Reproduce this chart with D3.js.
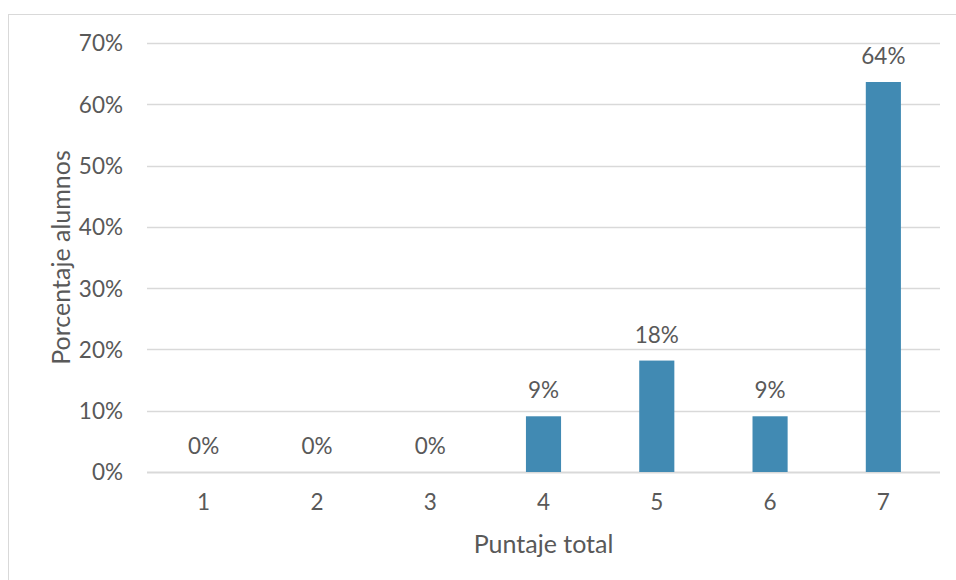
<!DOCTYPE html>
<html>
<head>
<meta charset="utf-8">
<script src="https://cdn.jsdelivr.net/npm/d3@7"></script>
<style>
  body { margin: 0; background: #fff; }
  text { font-family: Lato, "Open Sans", sans-serif; fill: #595959; }
</style>
</head>
<body>
<svg id="chart" width="956" height="580"></svg>
<script>
var categories = ["1", "2", "3", "4", "5", "6", "7"];
var values = [0, 0, 0, 1/11, 2/11, 1/11, 7/11];
var yTicks = [0, 0.1, 0.2, 0.3, 0.4, 0.5, 0.6, 0.7];
var xTitle = "Puntaje total";
var yTitle = "Porcentaje alumnos";

var svg = d3.select("#chart");
var margin = {top: 43, right: 16, bottom: 108, left: 147};
var width = 956 - margin.left - margin.right,
    height = 580 - margin.top - margin.bottom;

// chart frame
svg.append("rect")
  .attr("x", 8.5).attr("y", 14.5)
  .attr("width", 960).attr("height", 600)
  .attr("fill", "none")
  .attr("stroke", "#d9d9d9");

var g = svg.append("g")
  .attr("transform", "translate(" + margin.left + "," + margin.top + ")");

var x = d3.scaleBand().domain(categories).range([0, width]).paddingInner(0.69).paddingOuter(0.345);
var y = d3.scaleLinear().domain([0, 0.7]).range([height, 0]);

// gridlines
g.selectAll(".grid")
  .data(yTicks)
  .enter().append("line")
    .attr("class", "grid")
    .attr("x1", 0).attr("x2", width)
    .attr("y1", function(d) { return Math.round(y(d)) + 0.5; })
    .attr("y2", function(d) { return Math.round(y(d)) + 0.5; })
    .attr("stroke", "#d9d9d9")
    .attr("stroke-width", function(d) { return d === 0 ? 2 : 1.3; });

var yAxis = d3.axisLeft(y).tickValues(yTicks).tickFormat(d3.format(".0%")).tickSize(0).tickPadding(24);
g.append("g").call(yAxis)
  .call(function(s) { s.select(".domain").remove(); })
  .selectAll("text").style("font-size", "22.5px").style("fill", "#595959").attr("dy", "0.35em");

var xAxis = d3.axisBottom(x).tickSize(0).tickPadding(22);
g.append("g").attr("transform", "translate(0," + height + ")").call(xAxis)
  .call(function(s) { s.select(".domain").remove(); })
  .selectAll("text").style("font-size", "22.5px").style("fill", "#595959");

g.selectAll(".bar")
  .data(values)
  .enter().append("rect")
    .attr("class", "bar")
    .attr("x", function(d, i) { return x(categories[i]); })
    .attr("width", x.bandwidth())
    .attr("y", function(d) { return y(d); })
    .attr("height", function(d) { return height - y(d); })
    .attr("fill", "#418ab3");

g.selectAll(".lbl")
  .data(values)
  .enter().append("text")
    .attr("class", "lbl")
    .attr("x", function(d, i) { return x(categories[i]) + x.bandwidth() / 2; })
    .attr("y", function(d) { return y(d) - 18; })
    .attr("text-anchor", "middle")
    .style("font-size", "22.5px")
    .text(function(d) { return d3.format(".0%")(d); });

svg.append("text")
  .attr("x", margin.left + width / 2)
  .attr("y", 553)
  .attr("text-anchor", "middle")
  .style("font-size", "25px")
  .text(xTitle);

svg.append("text")
  .attr("transform", "translate(70," + (margin.top + height / 2) + ") rotate(-90)")
  .attr("text-anchor", "middle")
  .style("font-size", "25px")
  .text(yTitle);
</script>
</body>
</html>
